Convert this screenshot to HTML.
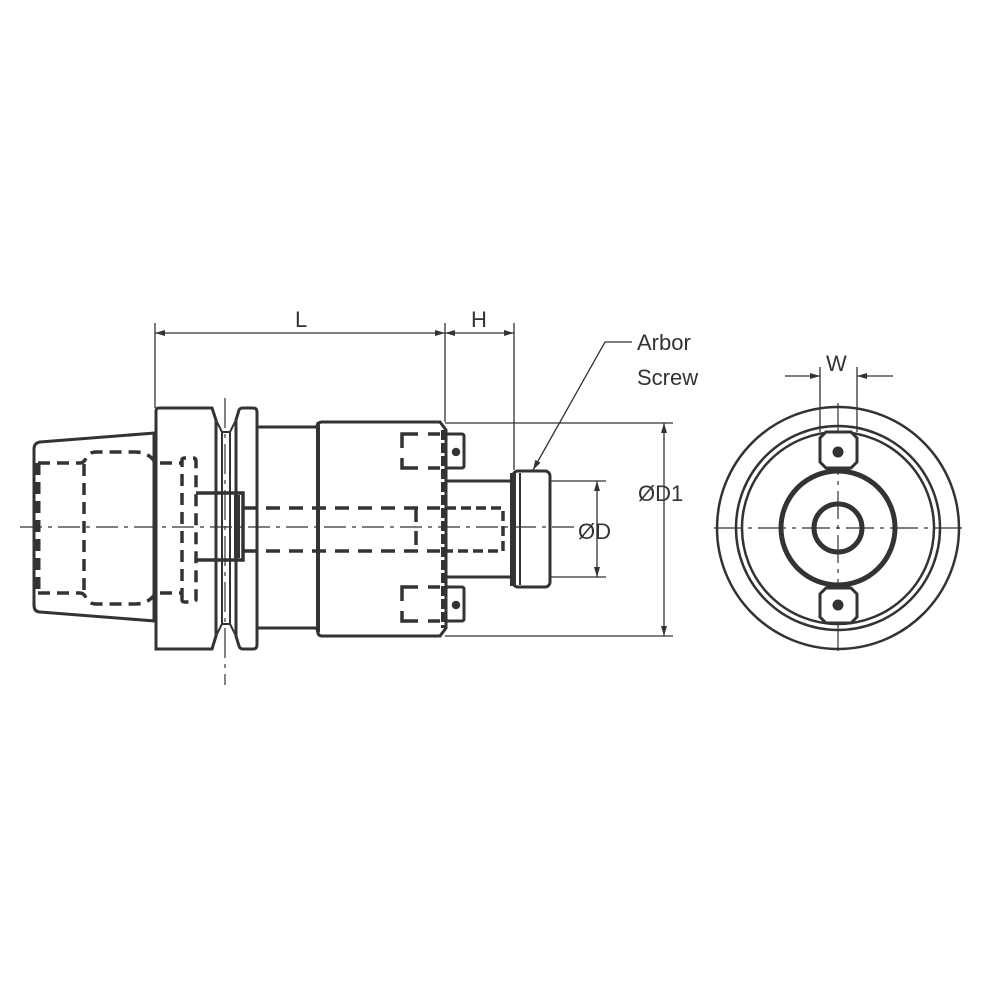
<!DOCTYPE html>
<html><head><meta charset="utf-8"><style>
html,body{margin:0;padding:0;background:#fff}
svg{display:block}
text{font-family:"Liberation Sans",sans-serif;fill:#333}
</style></head><body>
<svg width="1000" height="1000" viewBox="0 0 1000 1000" xmlns="http://www.w3.org/2000/svg">
<defs>
<marker id="a" viewBox="0 0 10 6" refX="10" refY="3" markerWidth="14" markerHeight="6" markerUnits="userSpaceOnUse" orient="auto-start-reverse">
<path d="M0,0 L10,3 L0,6 Z" fill="#333"/></marker>
</defs>
<g stroke="#333" fill="none">
<line x1="20" y1="527" x2="580" y2="527" stroke-width="1.2" stroke-dasharray="22,6,4,6"/>
<line x1="225" y1="398" x2="225" y2="685" stroke-width="1.2" stroke-dasharray="30,6,4,6"/>

<path d="M155,433 L40,442 Q34,443 34,449 L34,605 Q34,612 40,612 L155,621" stroke-width="3"/>
<line x1="155" y1="433" x2="155" y2="621" stroke-width="5"/>
<g stroke-width="3.5" stroke-dasharray="12,7">
<path d="M38,463 L80,463 Q84,463 86,458 L89,455 Q91,452 96,452 L135,452 Q150,452 157,465"/>
<path d="M38,593 L80,593 Q84,593 86,598 L89,601 Q91,604 96,604 L135,604 Q150,604 157,591"/>
<line x1="84" y1="464" x2="84" y2="592"/>
<line x1="38" y1="463" x2="38" y2="593" stroke-width="5"/>
<line x1="160" y1="463" x2="182" y2="463"/>
<line x1="160" y1="593" x2="182" y2="593"/>
<path d="M182,600 L182,460 Q182,458 185,458 L193,458 Q196,458 196,461 L196,599 Q196,602 193,602 L185,602 Q182,602 182,600"/>
</g>
<path d="M156,649 L156,411 Q156,408 159,408 L212,408 L216,420 L216,636 L212,649 Z" stroke-width="3"/>
<path d="M216,420 L222,432 L230,432 L236,420" stroke-width="2"/>
<path d="M216,636 L222,624 L230,624 L236,636" stroke-width="2"/>
<line x1="222" y1="432" x2="222" y2="624" stroke-width="2"/>
<line x1="230" y1="432" x2="230" y2="624" stroke-width="2"/>
<path d="M236,420 L239,410 Q240,408 243,408 L253,408 Q257,408 257,412 L257,645 Q257,649 253,649 L243,649 Q240,649 239,646 L236,636 Z" stroke-width="3"/>
<path d="M257,427 L316,427 Q318,425 318,422 M257,628 L316,628 Q318,630 318,634" stroke-width="3"/>
<line x1="318" y1="425" x2="318" y2="632" stroke-width="4"/>
<path d="M196,493 L243,493 L243,560 L196,560" stroke-width="3.5"/>
<line x1="237" y1="495" x2="237" y2="558" stroke-width="6"/>
<g stroke-width="3.5" stroke-dasharray="14,9">
<line x1="243" y1="508" x2="440" y2="508"/>
<line x1="243" y1="551" x2="440" y2="551"/>
<path d="M416,508 L416,551"/>
</g>
<path d="M318,426 Q318,422 322,422 L440,422 L446,430 L446,628 L440,636 L322,636 Q318,636 318,632" stroke-width="3"/>
<line x1="443" y1="430" x2="443" y2="628" stroke-width="4" stroke-dasharray="10,3"/>
<g stroke-width="3.5">
<path d="M418,434 L402,434 L402,448 M402,458 L402,468 L418,468"/>
<path d="M428,434 L440,434 M428,468 L440,468"/>
<rect x="446" y="434" width="18" height="34" rx="2" stroke-width="3"/>
<circle cx="456" cy="452" r="2.5" fill="#333"/>
<path d="M418,587 L402,587 L402,601 M402,611 L402,621 L418,621"/>
<path d="M428,587 L440,587 M428,621 L440,621"/>
<rect x="446" y="587" width="18" height="34" rx="2" stroke-width="3"/>
<circle cx="456" cy="605" r="2.5" fill="#333"/>
</g>
<path d="M446,481 L513,481 M446,577 L513,577" stroke-width="3"/>
<path d="M446,508 L503,508 L503,551 L446,551" stroke-width="3.5" stroke-dasharray="10,5"/>
<line x1="513" y1="473" x2="513" y2="586" stroke-width="6"/>
<rect x="513" y="471" width="37" height="116" rx="5" stroke-width="3"/>
<line x1="520" y1="473" x2="520" y2="585" stroke-width="2"/>

<g stroke-width="1.3">
<line x1="155" y1="323" x2="155" y2="408"/>
<line x1="445" y1="323" x2="445" y2="422"/>
<line x1="514" y1="323" x2="514" y2="470"/>
<line x1="155" y1="333" x2="445" y2="333" marker-start="url(#a)" marker-end="url(#a)"/>
<line x1="445" y1="333" x2="514" y2="333" marker-start="url(#a)" marker-end="url(#a)"/>
<line x1="445" y1="423" x2="673" y2="423"/>
<line x1="445" y1="636" x2="673" y2="636"/>
<line x1="664" y1="423" x2="664" y2="636" marker-start="url(#a)" marker-end="url(#a)"/>
<line x1="550" y1="481" x2="606" y2="481"/>
<line x1="550" y1="577" x2="606" y2="577"/>
<line x1="597" y1="481" x2="597" y2="577" marker-start="url(#a)" marker-end="url(#a)"/>
<path d="M632,342 L605,342 L533,470" marker-end="url(#a)"/>
</g>

<line x1="714" y1="528" x2="962" y2="528" stroke-width="1.2" stroke-dasharray="28,6,4,6"/>
<line x1="838" y1="403" x2="838" y2="655" stroke-width="1.2" stroke-dasharray="28,6,4,6"/>
<circle cx="838" cy="528" r="121" stroke-width="2.5"/>
<circle cx="838" cy="528" r="102" stroke-width="2.5"/>
<circle cx="838" cy="528" r="96" stroke-width="2.5"/>
<circle cx="838" cy="528" r="57" stroke-width="5"/>
<circle cx="838" cy="528" r="24" stroke-width="5"/>
<path d="M826,432 L851,432 L857,438 L857,462 L851,468 L826,468 L820,462 L820,438 Z" stroke-width="3" fill="#fff"/>
<circle cx="838" cy="452" r="5" fill="#333"/>
<path d="M826,588 L851,588 L857,594 L857,617 L851,623 L826,623 L820,617 L820,594 Z" stroke-width="3" fill="#fff"/>
<circle cx="838" cy="605" r="5" fill="#333"/>
<g stroke-width="1.3">
<line x1="820" y1="367" x2="820" y2="432"/>
<line x1="857" y1="367" x2="857" y2="432"/>
<line x1="785" y1="376" x2="820" y2="376" marker-end="url(#a)"/>
<line x1="893" y1="376" x2="857" y2="376" marker-end="url(#a)"/>
</g>
</g>
<text x="295" y="327" font-size="22">L</text>
<text x="471" y="327" font-size="22">H</text>
<text x="637" y="350" font-size="22">Arbor</text>
<text x="637" y="385" font-size="22">Screw</text>
<text x="638" y="501" font-size="22">ØD1</text>
<text x="578" y="539" font-size="22">ØD</text>
<text x="826" y="371" font-size="22">W</text>
</svg>
</body></html>
